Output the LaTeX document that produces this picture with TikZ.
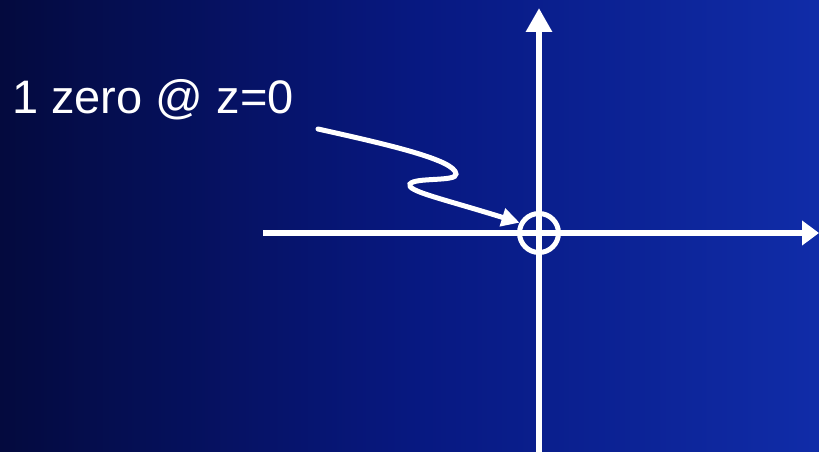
\documentclass[tikz,border=0pt]{standalone}
\usepackage{fontspec}
\setmainfont{Liberation Sans}
\usetikzlibrary{arrows.meta}
\definecolor{bgdark}{RGB}{4,10,62}
\definecolor{bgmid}{RGB}{7,24,128}
\definecolor{bglight}{RGB}{16,44,168}
\tikzset{
  axis/.style={white, line width=6pt},
  pointer/.style={white, line width=5pt, line cap=round, -{Triangle[length=18pt,width=18pt]}},
  label/.style={white, font=\fontsize{47}{54}\selectfont, anchor=base west, inner sep=0pt}
}
\begin{document}
\begin{tikzpicture}[x=1pt,y=-1pt]
\useasboundingbox (0,0) rectangle (819,452);
\shade[left color=bgdark, right color=bglight, middle color=bgmid] (0,0) rectangle (819,452);
\coordinate (ytop) at (539,8);
\coordinate (ybot) at (539,452);
\coordinate (xleft) at (263,233);
\coordinate (xright) at (819,233);
\draw[axis, -{Triangle[length=24pt,width=25pt]}] (ybot) -- (ytop);
\draw[axis, -{Triangle[length=17pt,width=24pt]}] (xleft) -- (xright);
\node[circle, draw=white, line width=5pt, minimum size=39pt, inner sep=0pt] (zero) at (539,233) {};
\node[label] (lbl) at (12,113) {1 zero @ z=0};
\coordinate (start) at (318,129);
\draw[pointer] (start) .. controls (390,145) and (455,160) .. (456,174)
  .. controls (457,182) and (415,177) .. (410,184)
  .. controls (406,191) and (440,198) .. (zero.152);
\end{tikzpicture}
\end{document}
